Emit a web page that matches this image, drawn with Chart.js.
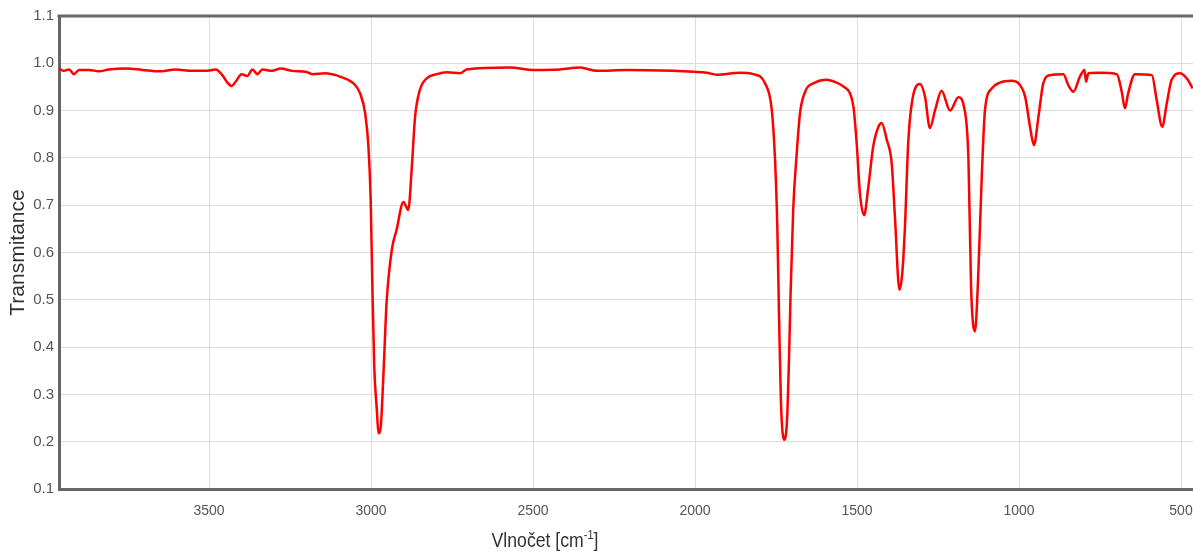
<!DOCTYPE html>
<html>
<head>
<meta charset="utf-8">
<script src="https://cdn.jsdelivr.net/npm/chart.js@4"></script>
<style>
  body { margin: 0; background: #fff; overflow: hidden; }
  #wrap { position: relative; width: 1193px; height: 552px; }
  #xTitle {
    position: absolute; left: 545px; top: 527px;
    transform: translateX(-50%) scaleX(0.84);
    font-family: "Liberation Sans", Arial, sans-serif; font-size: 21px; color: #333;
    white-space: nowrap;
  }
  #xTitle sup { font-size: 13px; }
</style>
</head>
<body>
<div id="wrap">
  <canvas id="irChart" width="1193" height="552"></canvas>
  <div id="xTitle">Vlnočet [cm<sup>-1</sup>]</div>
</div>
<script>
const waveNumbers = [3963, 3948, 3932, 3917, 3901, 3870, 3840, 3809, 3757, 3706, 3654, 3603, 3552, 3510, 3479, 3459, 3443, 3430, 3418, 3399,
  3382, 3366, 3351, 3335, 3305, 3279, 3243, 3201, 3181, 3140, 3109, 3096, 3055, 3034, 3018, 3008, 3001, 2996, 2990, 2982,
  2977, 2970, 2962, 2952, 2936, 2921, 2900, 2885, 2874, 2864, 2849, 2828, 2797, 2766, 2725, 2705, 2571, 2499, 2417, 2355,
  2303, 2211, 2067, 2005, 1964, 1933, 1861, 1820, 1784, 1763, 1753, 1746, 1741, 1735, 1725, 1716, 1710, 1705, 1697, 1686,
  1676, 1660, 1630, 1594, 1563, 1542, 1522, 1511, 1501, 1491, 1478, 1465, 1450, 1434, 1424, 1408, 1393, 1383, 1369, 1360,
  1352, 1342, 1331, 1306, 1290, 1275, 1259, 1239, 1213, 1187, 1170, 1156, 1148, 1136, 1126, 1115, 1105, 1084, 1059, 1023,
  1002, 981, 966, 954, 940, 925, 904, 863, 848, 832, 812, 798, 793, 786, 750, 698, 683, 673, 663, 642,
  590, 575, 558, 544, 529, 503, 482, 464];
const transmittance = [0.989, 0.984, 0.987, 0.977, 0.986, 0.986, 0.983, 0.987, 0.989, 0.986, 0.983, 0.987, 0.984, 0.984, 0.987, 0.975, 0.959, 0.952, 0.961, 0.977,
  0.973, 0.987, 0.977, 0.987, 0.984, 0.989, 0.984, 0.982, 0.977, 0.979, 0.975, 0.972, 0.958, 0.937, 0.894, 0.824, 0.711, 0.535, 0.359, 0.267,
  0.218, 0.232, 0.337, 0.493, 0.605, 0.648, 0.707, 0.690, 0.781, 0.887, 0.944, 0.968, 0.977, 0.981, 0.979, 0.987, 0.991, 0.986, 0.987, 0.991,
  0.984, 0.986, 0.984, 0.982, 0.980, 0.976, 0.980, 0.977, 0.958, 0.901, 0.796, 0.655, 0.478, 0.288, 0.204, 0.246, 0.373, 0.514, 0.690, 0.810,
  0.894, 0.940, 0.959, 0.965, 0.959, 0.951, 0.937, 0.908, 0.831, 0.725, 0.679, 0.739, 0.824, 0.866, 0.874, 0.838, 0.789, 0.676, 0.521, 0.559,
  0.655, 0.831, 0.915, 0.956, 0.929, 0.863, 0.901, 0.942, 0.900, 0.928, 0.908, 0.796, 0.528, 0.433, 0.549, 0.760, 0.901, 0.947, 0.959, 0.963,
  0.958, 0.929, 0.866, 0.827, 0.887, 0.958, 0.975, 0.977, 0.954, 0.940, 0.972, 0.986, 0.961, 0.979, 0.980, 0.977, 0.940, 0.905, 0.937, 0.977,
  0.975, 0.922, 0.866, 0.915, 0.965, 0.979, 0.968, 0.947];
const xTicks = [3500, 3000, 2500, 2000, 1500, 1000, 500];
const yTicks = [0.1, 0.2, 0.3, 0.4, 0.5, 0.6, 0.7, 0.8, 0.9, 1.0, 1.1];

// top frame line (the reference has a closed top edge)
const topBorder = {
  id: 'topBorder',
  afterDraw(chart) {
    const a = chart.chartArea, c = chart.ctx;
    c.save();
    c.strokeStyle = '#666';
    c.lineWidth = 3;
    c.beginPath();
    c.moveTo(a.left - 1.5, a.top);
    c.lineTo(a.right, a.top);
    c.stroke();
    c.restore();
  }
};

const ctx = document.getElementById('irChart').getContext('2d');
new Chart(ctx, {
  type: 'line',
  data: {
    datasets: [{
      data: waveNumbers.map((w, i) => ({ x: w, y: transmittance[i] })),
      borderColor: '#ff0000',
      borderWidth: 2.5,
      pointRadius: 0,
      fill: false,
      cubicInterpolationMode: 'monotone'
    }]
  },
  options: {
    responsive: false,
    animation: false,
    layout: { padding: { top: 16, right: 0, left: 0, bottom: 0 } },
    plugins: { legend: { display: false }, tooltip: { enabled: false } },
    scales: {
      x: {
        type: 'linear',
        reverse: true,
        min: 463,
        max: 3963,
        afterBuildTicks: s => { s.ticks = xTicks.map(v => ({ value: v })); },
        afterFit: s => { s.height = 63; s.paddingRight = 0; s.paddingLeft = 0; },
        grid: { color: '#dcdcdc', drawTicks: false },
        border: { color: '#666', width: 3 },
        ticks: {
          color: '#555', padding: 14,
          font: { family: 'Liberation Sans, Arial', size: 14 },
          maxRotation: 0,
          callback: v => String(v)
        }
      },
      y: {
        min: 0.1,
        max: 1.1,
        afterBuildTicks: s => { s.ticks = yTicks.map(v => ({ value: v })); },
        afterFit: s => { s.width = 59; },
        grid: { color: '#dcdcdc', drawTicks: false },
        border: { color: '#666', width: 3 },
        ticks: {
          color: '#555', padding: 5,
          font: { family: 'Liberation Sans, Arial', size: 15 },
          callback: v => v.toFixed(1)
        },
        title: {
          display: true,
          text: 'Transmitance',
          color: '#333',
          padding: { top: 6, bottom: 0 },
          font: { family: 'Liberation Sans, Arial', size: 21 }
        }
      }
    }
  },
  plugins: [topBorder]
});
</script>
</body>
</html>
